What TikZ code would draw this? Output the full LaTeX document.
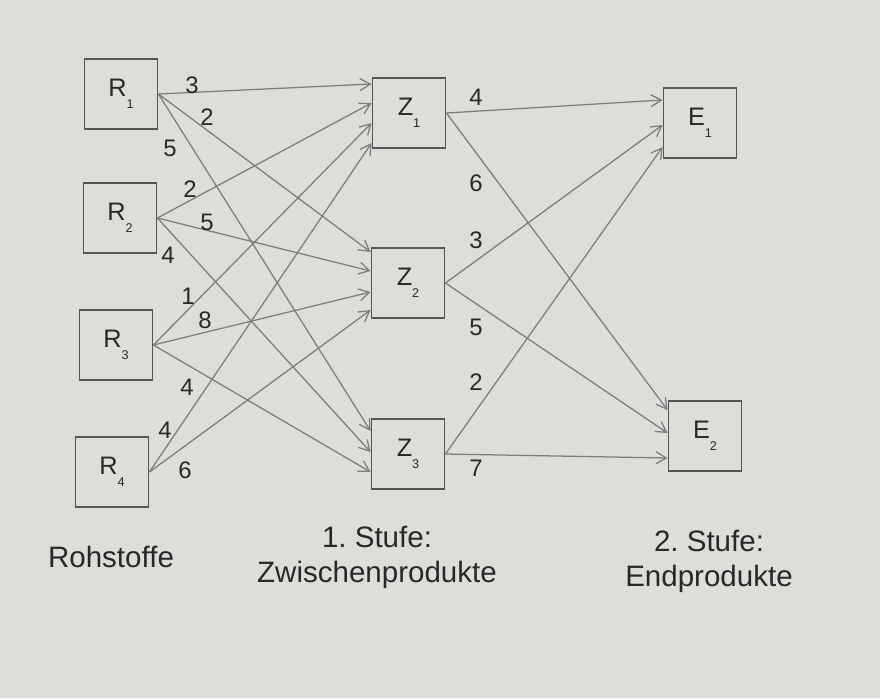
\documentclass[tikz,border=0pt]{standalone}
\usepackage{fontspec}
\setmainfont{Liberation Sans}
\usetikzlibrary{calc,arrows.meta}
\definecolor{paper}{RGB}{221,221,218}
\definecolor{edgegray}{RGB}{125,125,125}
\definecolor{boxgray}{RGB}{85,85,85}
\definecolor{ink}{RGB}{40,40,40}
\newcommand{\subidx}[1]{\raisebox{-8.5pt}{\fontsize{9}{9}\selectfont #1}}
\frenchspacing

\begin{document}
\begin{tikzpicture}[
  x=0.025cm, y=-0.025cm,
  box/.style={draw=boxgray, line width=1.3pt, minimum width=1.825cm, minimum height=1.75cm, inner sep=0pt, text=ink, font=\fontsize{18}{18}\selectfont},
  flow/.style={draw=edgegray, line width=0.9pt, -{Straight Barb[length=2.6mm,width=3mm]}},
  wlab/.style={text=ink, font=\fontsize{17}{17}\selectfont, inner sep=0pt},
  stage/.style={text=ink, font=\fontsize{21}{25}\selectfont, align=center, inner sep=0pt}
]
\fill[paper] (0,0) rectangle (880,698);

% raw materials
\node[box] (R1) at (121,94) {R\subidx{1}};
\node[box] (R2) at (120,218) {R\subidx{2}};
\node[box] (R3) at (116,345) {R\subidx{3}};
\node[box] (R4) at (112,472) {R\subidx{4}};
% intermediate products
\node[box] (Z1) at (409,113) {Z\subidx{1}};
\node[box] (Z2) at (408,283) {Z\subidx{2}};
\node[box] (Z3) at (408,454) {Z\subidx{3}};
% end products
\node[box] (E1) at (700,123) {E\subidx{1}};
\node[box] (E2) at (705,436) {E\subidx{2}};

\foreach \src/\dst/\off/\w/\lx/\ly in {
  R1/Z1/-29/3/192/85, R1/Z2/-31/2/207/117, R1/Z3/-23/5/170/148,
  R2/Z1/-10/2/190/189, R2/Z2/-12/5/207/222, R2/Z3/-2/4/168/255,
  R3/Z1/10/1/188/296, R3/Z2/9/8/205/320, R3/Z3/18/4/187/387,
  R4/Z1/30/4/165/430, R4/Z2/27/6/185/470,
  Z1/E1/-23/4/476/97, Z1/E2/-26/6/476/183,
  Z2/E1/2/3/476/240, Z2/E2/-3/5/476/327,
  Z3/E1/24/2/476/382, Z3/E2/22/7/476/468}
{
  \draw[flow] (\src.east) -- ($(\dst.west)+(0,\off)$);
  \node[wlab] (w\src\dst) at (\lx,\ly) {\w};
}

% captions
\node[stage] (rohstoffe) at (111,557) {Rohstoffe};
\node[stage] (stufe1) at (377,557) {1. Stufe:\\Zwischenprodukte};
\node[stage] (stufe2) at (709,561) {2. Stufe:\\Endprodukte};
\end{tikzpicture}
\end{document}
